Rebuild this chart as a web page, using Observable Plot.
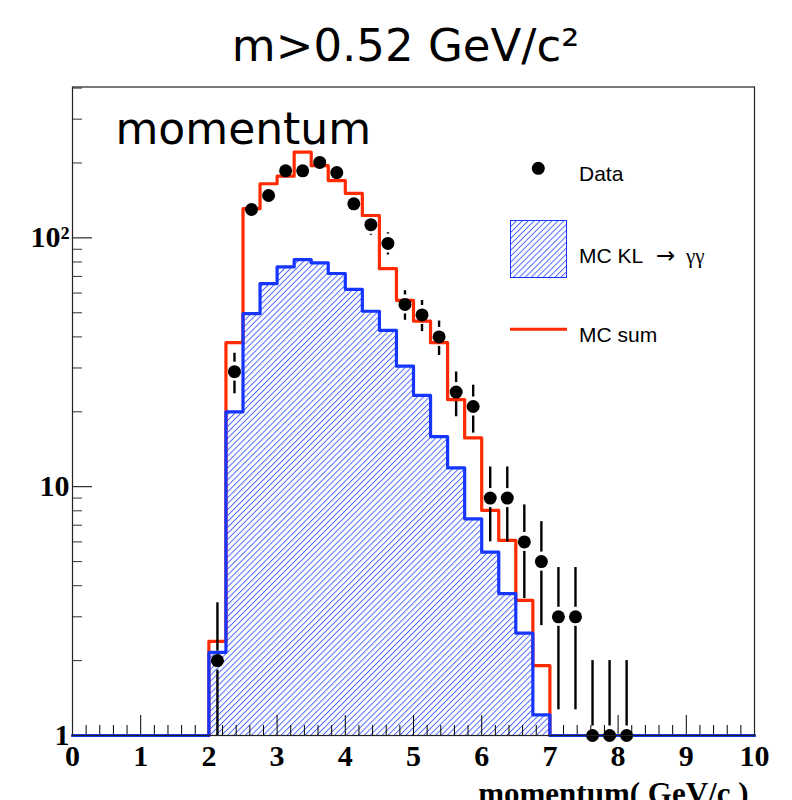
<!DOCTYPE html>
<html>
<head>
<meta charset="utf-8">
<script src="https://cdn.jsdelivr.net/npm/d3@7"></script>
<script src="https://cdn.jsdelivr.net/npm/@observablehq/plot@0.6"></script>
<style>
  html, body { margin: 0; padding: 0; background: #fff; }
  #chart { width: 792px; height: 800px; overflow: hidden; }
</style>
</head>
<body>
<div id="chart"></div>
<script>
// Momentum spectrum for candidates with m > 0.52 GeV/c^2, 0.25 GeV/c bins.

// Lower edges of the MC histogram bins (filled range 2.0 – 7.0 GeV/c)
const mcLowEdges = [2.0, 2.25, 2.5, 2.75, 3.0, 3.25, 3.5, 3.75, 4.0, 4.25,
                    4.5, 4.75, 5.0, 5.25, 5.5, 5.75, 6.0, 6.25, 6.5, 6.75];
const mcUpperEdge = 7.0;

// MC KL -> gamma gamma (hatched)
const mcKL = [2.16, 20.0, 49.6, 65.5, 76.4, 81.8, 79.3, 71.9, 62.1, 50.7,
              42.5, 30.5, 23.3, 15.9, 11.9, 7.43, 5.46, 3.72, 2.58, 1.21];

// MC sum (red outline)
const mcSum = [2.39, 37.9, 131, 165, 177, 221, 195, 170, 151, 123,
               75.2, 56.1, 46.3, 37.9, 22.4, 15.7, 8.03, 6.08, 3.49, 1.91];

// Data: bin centres and counts (empty bins are not drawn on the log scale)
const dataCenters = [2.125, 2.375, 2.625, 2.875, 3.125, 3.375, 3.625, 3.875, 4.125,
                     4.375, 4.625, 4.875, 5.125, 5.375, 5.625, 5.875, 6.125, 6.375,
                     6.625, 6.875, 7.125, 7.375, 7.625, 7.875, 8.125];
const dataCounts = [2, 29, 130, 148, 186, 186, 201, 183, 137,
                    113, 95, 54, 49, 40, 24, 21, 9, 9,
                    6, 5, 3, 3, 1, 1, 1];

// Axes
const xDomain = [0, 10];
const yDomain = [1, 404];
const xTicks = [0, 1, 2, 3, 4, 5, 6, 7, 8, 9, 10];
const yTicks = [1, 10, 100];
const yTickLabels = ["1", "10", "10\u00B2"];
const yMinorTicks = [2, 3, 4, 5, 6, 7, 8, 9, 20, 30, 40, 50, 60, 70, 80, 90, 200, 300, 400];

const titleText = "m>0.52 GeV/c\u00B2";
const panelLabel = "momentum";
const xLabel = "momentum( GeV/c )";

// ---- layout ----
const W = 792, H = 800;
const mL = 72, mR = 38, mT = 86.5, mB = 65;
const frameW = W - mL - mR, frameH = H - mT - mB;

const RED = "#ff2a00";
const BLUE = "#1636ff";
const HATCH = "#2f52ff";
const yFloor = yDomain[0];

// step outlines: baseline from 0, the filled bins, back to baseline out to 10
function stepOutline(vals) {
  return [{x: xDomain[0], y: yFloor}]
    .concat(mcLowEdges.map((x, i) => ({x, y: vals[i]})))
    .concat([{x: mcUpperEdge, y: yFloor}, {x: xDomain[1], y: yFloor}]);
}
const klArea = mcLowEdges.map((x, i) => ({x, y: mcKL[i]}))
  .concat([{x: mcUpperEdge, y: mcKL[mcKL.length - 1]}]);

// Poisson error bars, leaving a gap of `gap` pixels around each marker
const yPix = d3.scaleLog().domain(yDomain).range([H - mB, mT]);
const gap = 9.5;
const pts = dataCenters.map((x, i) => {
  const n = dataCounts[i], e = Math.sqrt(n);
  return {
    x, n, hi: n + e, lo: n - e,
    gapHi: yPix.invert(yPix(n) - gap),
    gapLo: yPix.invert(yPix(n) + gap)
  };
});
const upperBars = pts.filter(d => yPix(d.gapHi) - yPix(d.hi) > 0.5);
const lowerBars = pts.filter(d => d.lo > 0 && yPix(d.lo) - yPix(d.gapLo) > 0.5);

const xMinor = d3.range(0, 50).map(i => i * 0.2).filter(v => Math.abs(v - Math.round(v)) > 1e-6);

const serif = "'Liberation Serif', 'Times New Roman', serif";
const sans = "'Liberation Sans', Arial, sans-serif";
const round = "'DejaVu Sans', sans-serif";

// hatch pattern definition
const defs = () => {
  const d = d3.create("svg:defs");
  const p = d.append("pattern")
    .attr("id", "klHatch")
    .attr("patternUnits", "userSpaceOnUse")
    .attr("width", 4.2).attr("height", 4.2)
    .attr("patternTransform", "rotate(45)");
  p.append("line")
    .attr("x1", 0.5).attr("y1", -1).attr("x2", 0.5).attr("y2", 6)
    .attr("stroke", HATCH).attr("stroke-width", 0.85);
  return d.node();
};

// legend in the upper right of the frame
const legend = () => {
  const g = d3.create("svg:g").attr("text-anchor", "start");
  g.append("circle").attr("cx", 538.3).attr("cy", 168.3).attr("r", 6.5).attr("fill", "#000");
  g.append("text").attr("x", 579).attr("y", 181)
    .attr("font-family", sans).attr("font-size", 21).attr("fill", "#000").text("Data");
  g.append("rect").attr("x", 510.5).attr("y", 220.5).attr("width", 56).attr("height", 57)
    .attr("fill", "url(#klHatch)").attr("stroke", BLUE).attr("stroke-width", 1);
  const t = g.append("text").attr("x", 579).attr("y", 263)
    .attr("font-family", sans).attr("font-size", 21).attr("fill", "#000");
  t.append("tspan").text("MC KL");
  t.append("tspan").attr("x", 656).attr("font-family", round).attr("font-size", 23).text("\u2192");
  t.append("tspan").attr("x", 686).attr("font-family", serif).attr("font-size", 21).text("\u03B3\u03B3");
  g.append("line").attr("x1", 510).attr("x2", 567).attr("y1", 329.3).attr("y2", 329.3)
    .attr("stroke", RED).attr("stroke-width", 3);
  g.append("text").attr("x", 579).attr("y", 342)
    .attr("font-family", sans).attr("font-size", 21).attr("fill", "#000").text("MC sum");
  return g.node();
};

const chart = Plot.plot({
  width: W,
  height: H,
  marginLeft: mL,
  marginRight: mR,
  marginTop: mT,
  marginBottom: mB,
  style: {background: "#fff", color: "#000", overflow: "visible"},
  x: {domain: xDomain},
  y: {type: "log", domain: yDomain},
  marks: [
    defs,
    // hatched MC KL -> gamma gamma
    Plot.areaY(klArea, {x: "x", y1: yFloor, y2: "y", curve: "step-after", fill: "url(#klHatch)"}),
    // axis ticks drawn inside the frame
    Plot.tickX(xMinor, {x: d => d, stroke: "#000", strokeWidth: 1, insetTop: frameH - 10}),
    Plot.tickX(xTicks, {x: d => d, stroke: "#000", strokeWidth: 1, insetTop: frameH - 20}),
    Plot.tickY(yMinorTicks, {y: d => d, stroke: "#333", strokeWidth: 1, insetRight: frameW - 10}),
    Plot.tickY(yTicks, {y: d => d, stroke: "#000", strokeWidth: 1, insetRight: frameW - 20}),
    // MC outlines
    Plot.line(stepOutline(mcSum), {x: "x", y: "y", curve: "step-after", stroke: RED, strokeWidth: 3.2}),
    Plot.line(stepOutline(mcKL), {x: "x", y: "y", curve: "step-after", stroke: BLUE, strokeWidth: 3.2}),
    // data with error bars
    Plot.ruleX(upperBars, {x: "x", y1: "gapHi", y2: "hi", stroke: "#000", strokeWidth: 2.4, clip: true}),
    Plot.ruleX(lowerBars, {x: "x", y1: "lo", y2: "gapLo", stroke: "#000", strokeWidth: 2.4, clip: true}),
    Plot.dot(pts, {x: "x", y: "n", r: 6.5, fill: "#000", stroke: null}),
    Plot.frame({stroke: "#222", strokeWidth: 1.2}),
    // tick labels
    Plot.axisX(xTicks, {tickSize: 0, tickPadding: 9, label: null,
      fontSize: 30, fontWeight: "bold", fontFamily: serif, fill: "#000"}),
    Plot.axisY(yTicks, {tickSize: 0, tickPadding: 3, label: null,
      tickFormat: d => yTickLabels[yTicks.indexOf(d)],
      fontSize: 30, fontWeight: "bold", fontFamily: serif, fill: "#000"}),
    // titles
    Plot.text([titleText], {frameAnchor: "top", dx: -8, dy: -26.5, lineAnchor: "bottom",
      fontSize: 45, fontFamily: round, fill: "#000"}),
    Plot.text([panelLabel], {frameAnchor: "top-left", textAnchor: "start", dx: 43, dy: 56.5,
      lineAnchor: "bottom", fontSize: 44, fontFamily: round, fill: "#000"}),
    Plot.text([xLabel], {frameAnchor: "bottom-right", textAnchor: "end", dx: -6, dy: 68,
      lineAnchor: "bottom", fontSize: 31, fontWeight: "bold", fontFamily: serif, fill: "#000"}),
    legend
  ]
});

document.getElementById("chart").appendChild(chart);
</script>
</body>
</html>
